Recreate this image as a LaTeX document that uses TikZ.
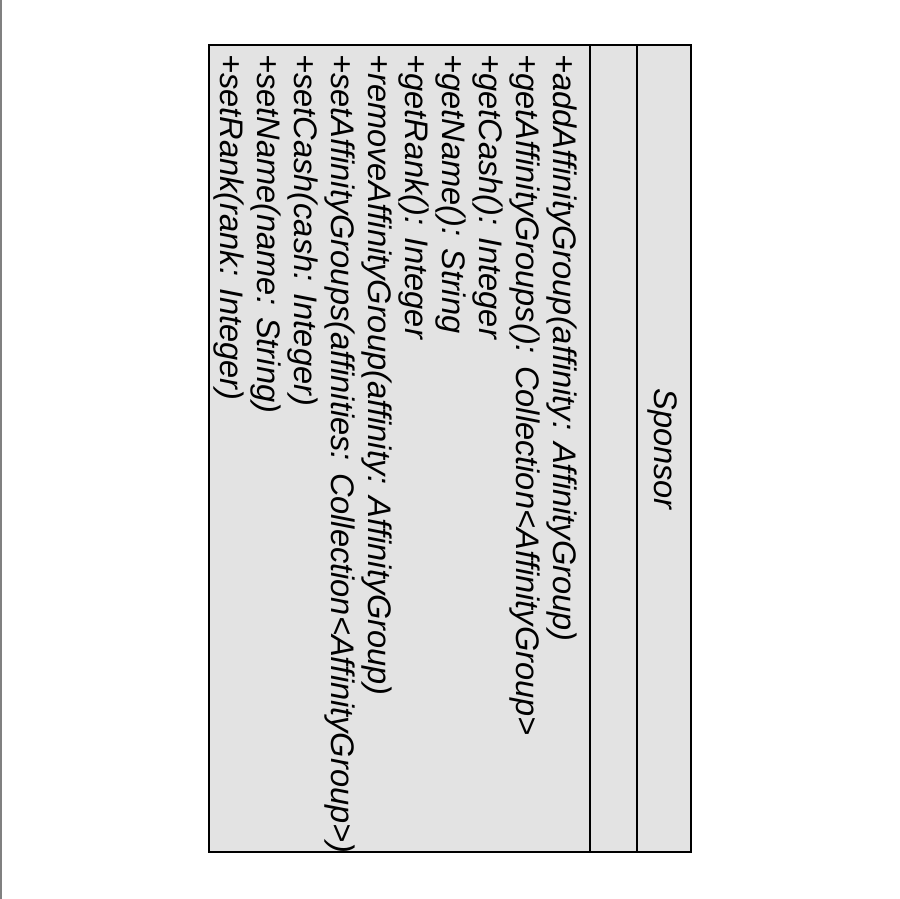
\documentclass[tikz,border=0pt]{standalone}
\usepackage{fontspec}
\setmainfont{Liberation Sans}
\usetikzlibrary{arrows}
\definecolor{boxgray}{gray}{0.89}

\begin{document}
\begin{tikzpicture}[x=1pt,y=-1pt]
\tikzstyle{every node}=[inner sep=0pt, rotate=-90, font=\itshape\fontsize{32.6}{37}\selectfont]
\useasboundingbox (0,0) rectangle (900,899);
\draw[gray, line width=1.5pt] (0.75,0) -- (0.75,899);
% class box, turned on its side
\draw[line width=2pt, fill=boxgray] (209,45) rectangle (691,852);
\draw[line width=2pt] (590,45) -- (590,852);
\draw[line width=2pt] (637,45) -- (637,852);
\draw (662,449) node (name) {Sponsor};
\draw (577,54) node (ops) [anchor=north west, align=left] {+addAffinityGroup(affinity: AffinityGroup)\\
+getAffinityGroups(): Collection<AffinityGroup>\\
+getCash(): Integer\\
+getName(): String\\
+getRank(): Integer\\
+removeAffinityGroup(affinity: AffinityGroup)\\
+setAffinityGroups(affinities: Collection<AffinityGroup>)\\
+setCash(cash: Integer)\\
+setName(name: String)\\
+setRank(rank: Integer)};
\end{tikzpicture}
\end{document}
